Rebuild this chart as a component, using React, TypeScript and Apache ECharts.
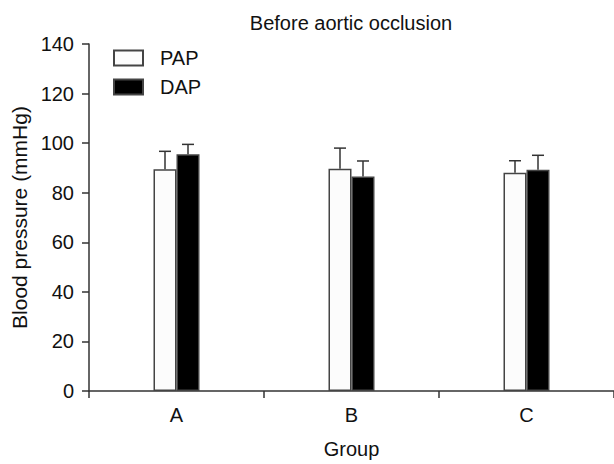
import React, { useEffect, useRef } from "react";
import * as echarts from "echarts";

const categories = ["A", "B", "C"];
const papMean = [89.5, 89.7, 88.1];
const papSD = [7.2, 8.3, 4.8];
const dapMean = [95.5, 86.5, 89.3];
const dapSD = [4.0, 6.3, 5.8];
const yTicks = [0, 20, 40, 60, 80, 100, 120, 140];

const FONT = "Liberation Sans, Arial, sans-serif";
const BAR_W = 23;

function errorSeries(name: string, means: number[], sds: number[], offset: number) {
  return {
    type: "custom",
    name: name + " SD",
    z: 5,
    silent: true,
    data: means.map((m, i) => [i, m, m + sds[i]]),
    renderItem: (params: any, api: any) => {
      const idx = api.value(0);
      const lo = api.coord([idx, api.value(1)]);
      const hi = api.coord([idx, api.value(2)]);
      const x = lo[0] + offset;
      const cap = 6;
      const style = { stroke: "#333", lineWidth: 1.5, fill: "none" };
      return {
        type: "group",
        children: [
          { type: "line", shape: { x1: x, y1: lo[1], x2: x, y2: hi[1] }, style },
          { type: "line", shape: { x1: x - cap, y1: hi[1], x2: x + cap, y2: hi[1] }, style },
        ],
      };
    },
  };
}

export default function App() {
  const ref = useRef<HTMLDivElement>(null);
  useEffect(() => {
    if (!ref.current) return;
    const chart = echarts.init(ref.current, null, { renderer: "svg" });
    chart.setOption({
      animation: false,
      backgroundColor: "#fff",
      textStyle: { fontFamily: FONT },
      title: {
        text: "Before aortic occlusion",
        left: 346,
        textAlign: "center",
        top: 8,
        textStyle: { fontFamily: FONT, fontSize: 20, fontWeight: "normal", color: "#111" },
      },
      legend: {
        orient: "vertical",
        left: 108,
        top: 43,
        itemWidth: 29,
        itemHeight: 15,
        itemGap: 9,
        icon: "rect",
        data: ["PAP", "DAP"],
        textStyle: { fontFamily: FONT, fontSize: 20, color: "#111", padding: [0, 0, 0, 12] },
      },
      grid: { left: 89, right: 0, top: 44, bottom: 70 },
      xAxis: {
        type: "category",
        data: categories,
        name: "Group",
        nameLocation: "middle",
        nameGap: 48,
        nameTextStyle: { fontFamily: FONT, fontSize: 20, color: "#111" },
        axisLine: { lineStyle: { color: "#333", width: 1.5 } },
        axisTick: { show: true, length: 7, lineStyle: { color: "#333", width: 1.5 } },
        axisLabel: { fontFamily: FONT, fontSize: 20, color: "#111", margin: 14 },
      },
      yAxis: {
        type: "value",
        min: 0,
        max: 140,
        interval: 20,
        name: "Blood pressure (mmHg)",
        nameLocation: "middle",
        nameGap: 59,
        nameTextStyle: { fontFamily: FONT, fontSize: 21, color: "#111" },
        axisLine: { show: true, lineStyle: { color: "#333", width: 1.5 } },
        axisTick: { show: true, length: 7, lineStyle: { color: "#333", width: 1.5 } },
        axisLabel: {
          fontFamily: FONT,
          fontSize: 20,
          color: "#111",
          margin: 15,
          formatter: (v: number) => (yTicks.includes(v) ? String(v) : ""),
        },
        splitLine: { show: false },
      },
      series: [
        {
          type: "bar",
          name: "PAP",
          data: papMean,
          barWidth: BAR_W,
          barGap: "0%",
          itemStyle: { color: "#fcfcfc", borderColor: "#444", borderWidth: 1.5 },
        },
        {
          type: "bar",
          name: "DAP",
          data: dapMean,
          barWidth: BAR_W,
          barGap: "0%",
          itemStyle: { color: "#000", borderColor: "#444", borderWidth: 1.5 },
        },
        errorSeries("PAP", papMean, papSD, -BAR_W / 2),
        errorSeries("DAP", dapMean, dapSD, BAR_W / 2),
      ],
    });
    return () => chart.dispose();
  }, []);
  return <div ref={ref} style={{ width: 614, height: 464, position: "absolute", left: 0, top: 0 }} />;
}
